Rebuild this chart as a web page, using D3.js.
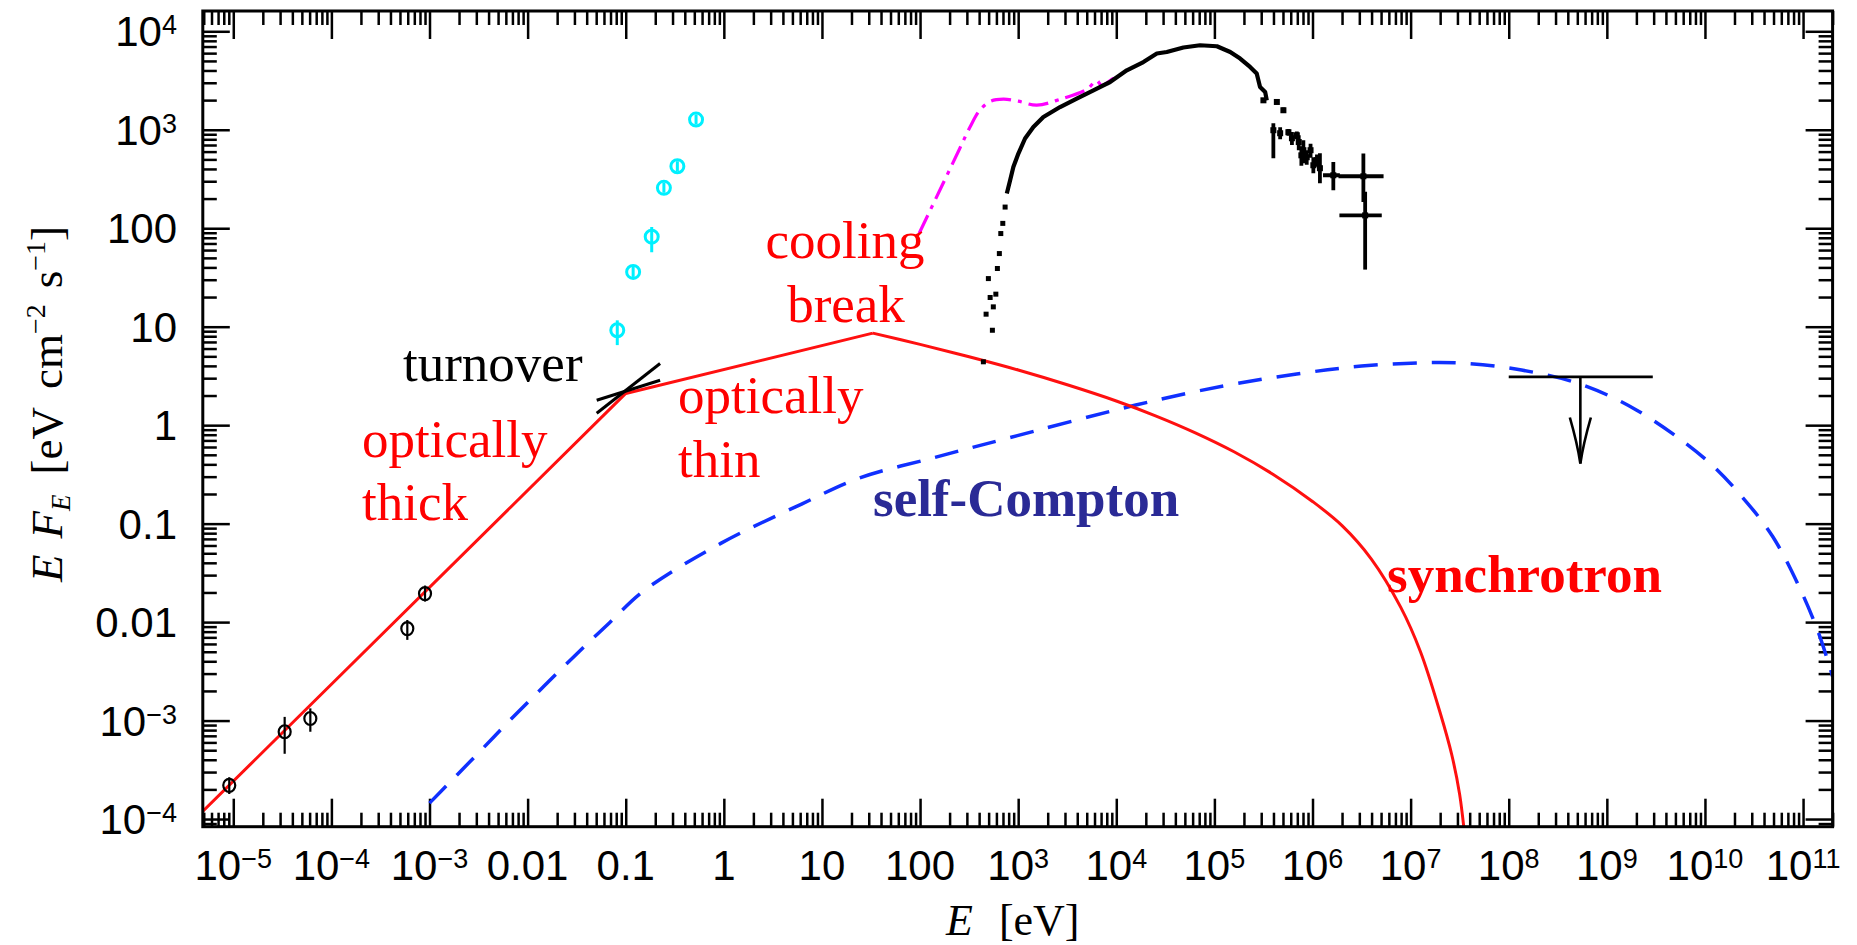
<!DOCTYPE html>
<html>
<head>
<meta charset="utf-8">
<script src="https://cdn.jsdelivr.net/npm/d3@7"></script>
<style>
  html, body { margin: 0; padding: 0; background: #ffffff; }
  svg { display: block; }
</style>
</head>
<body>
<svg id="chart" width="1857" height="945"></svg>
<script>
// ---- axis ranges and tick labels ----
const xDomain = [4.89e-6, 2.0e11];
const yDomain = [8.36e-5, 1.607e4];
const xMajorTicks = [1e-5, 1e-4, 1e-3, 1e-2, 1e-1, 1, 10, 100, 1e3, 1e4, 1e5, 1e6, 1e7, 1e8, 1e9, 1e10, 1e11];
const xTickLabels = ["10^−5", "10^−4", "10^−3", "0.01", "0.1", "1", "10", "100", "10^3", "10^4", "10^5", "10^6", "10^7", "10^8", "10^9", "10^10", "10^11"];
const yMajorTicks = [1e-4, 1e-3, 1e-2, 1e-1, 1, 10, 100, 1e3, 1e4];
const yTickLabels = ["10^−4", "10^−3", "0.01", "0.1", "1", "10", "100", "10^3", "10^4"];

// ---- synchrotron model: [E (eV), E F_E] ----
const synchrotronPowerLaw = [[4.9e-6, 1.2e-4], [0.1, 2.1], [33, 8.6]];
const synchrotronCutoff = [[33, 8.6], [100, 6.61], [316, 4.95], [1000, 3.63], [3162, 2.57],
  [1e4, 1.76], [2.51e4, 1.245], [6.31e4, 0.841], [1.585e5, 0.537], [3.98e5, 0.316],
  [1e6, 0.168], [2.0e6, 0.0955], [3.98e6, 0.0437], [7.94e6, 0.0141], [1.26e7, 5.0e-3],
  [2.0e7, 1.2e-3], [2.63e7, 4.47e-4], [3.16e7, 1.78e-4], [3.63e7, 5.6e-5]];

// ---- synchrotron self-Compton model ----
const selfCompton = [[1e-3, 1.45e-4], [3.16e-3, 4.7e-4], [7.2e-3, 1.1e-3], [0.032, 4.8e-3],
  [0.068, 9.8e-3], [0.155, 0.021], [0.93, 0.063], [6.2, 0.158], [24, 0.29], [141, 0.47],
  [676, 0.71], [1.58e4, 1.6], [1.26e5, 2.51], [6.9e5, 3.31], [3.16e6, 3.98], [1.58e7, 4.32],
  [3.98e7, 4.22], [1.35e8, 3.63], [5.25e8, 2.63], [2.04e9, 1.41], [1.05e10, 0.437],
  [2.4e10, 0.186], [4.9e10, 0.074], [9.3e10, 0.0219], [1.45e11, 7.6e-3], [2.0e11, 2.8e-3]];

// ---- absorbed soft X-ray model (dash-dot) ----
const unabsorbedXray = [[98, 89], [158, 240], [251, 631], [324, 1072], [407, 1585], [525, 1950],
  [708, 2042], [1000, 1950], [1549, 1778], [2692, 2042], [5012, 2570], [6310, 3162],
  [7079, 2818], [9333, 3311], [1.05e4, 3467]];

// ---- radio points: [E, E F_E, low, high] ----
const radioPoints = [[9.1e-6, 2.2e-4, 1.8e-4, 2.6e-4], [3.34e-5, 7.7e-4, 4.6e-4, 1.09e-3],
  [6.1e-5, 1.05e-3, 7.7e-4, 1.33e-3], [5.94e-4, 8.6e-3, 6.6e-3, 0.0105], [9.0e-4, 0.0195, 0.0175, 0.022]];

// ---- infrared / optical points ----
const opticalPoints = [[0.082, 9.2, 6.5, 11.6], [0.119, 36, 32, 40], [0.184, 82, 57, 103],
  [0.245, 257, 235, 280], [0.336, 426, 400, 455], [0.521, 1270, 1200, 1340]];

// ---- radio turnover bow-tie ----
const bowtieSteep = [[0.0506, 1.32], [0.224, 4.23]];
const bowtieFlat = [[0.0506, 1.79], [0.224, 2.86]];

// ---- X-ray spectrum ----
const xraySparse = [[442, 4.4], [546, 9.2], [471, 13.4], [558, 15.9], [518, 19.8], [592, 21.4],
  [497, 30.8], [614, 39], [643, 55.3], [665, 88.3], [697, 112], [736, 164]];
const xraySpectrum = [[766, 225], [828, 307], [893, 419], [1005, 573], [1175, 815], [1429, 1067],
  [1807, 1349], [2673, 1702], [3954, 2075], [5848, 2518], [8650, 3055], [1.28e4, 4018],
  [1.89e4, 4875], [2.59e4, 5943], [3.27e4, 6166], [4.83e4, 6839], [7.14e4, 7211], [1.06e5, 7047],
  [1.45e5, 6166], [1.83e5, 5284], [2.31e5, 4345], [2.70e5, 3724], [2.92e5, 2723], [3.29e5, 2421],
  [3.42e5, 1991]];
// [E, E F_E, low, high, E low, E high]
const xrayBins = [[3.16e5, 1991, 1900, 2090], [4.33e5, 1915, 1830, 2000], [5.05e5, 1578, 1480, 1680],
  [3.99e5, 989, 514, 1164], [4.68e5, 922, 800, 1060], [5.68e5, 944, 870, 1020], [6.17e5, 820, 700, 950],
  [6.92e5, 879, 800, 960], [7.24e5, 750, 620, 880], [7.7e5, 550, 430, 680], [8.07e5, 620, 457, 783],
  [8.73e5, 526, 440, 620], [9.55e5, 620, 520, 720], [1.02e6, 436, 362, 526], [1.11e6, 490, 420, 560],
  [1.19e6, 407, 286, 577], [1.63e6, 345, 243, 471, 1.28e6, 1.9e6],
  [3.3e6, 337, 185, 573, 1.84e6, 5.3e6], [3.44e6, 135, 38, 234, 1.88e6, 5.08e6]];

// ---- gamma-ray upper limit: [E low, E high, E centre, E F_E limit, arrow end] ----
const gammaLimit = [1e8, 2.94e9, 5.37e8, 3.09, 0.408];

// ---------------------------------------------------------------
const svg = d3.select("#chart");
const plot = { left: 202.8, right: 1832.6, top: 11, bottom: 826.7 };
const x = d3.scaleLog().domain(xDomain).range([plot.left, plot.right]);
const y = d3.scaleLog().domain(yDomain).range([plot.bottom, plot.top]);

svg.append("rect").attr("width", 1857).attr("height", 945).attr("fill", "#fff");

svg.append("defs").append("clipPath").attr("id", "plotClip")
  .append("rect").attr("x", plot.left).attr("y", plot.top)
  .attr("width", plot.right - plot.left).attr("height", plot.bottom - plot.top);

function minorTicks(dom) {
  const out = [];
  const lo = Math.floor(Math.log10(dom[0])), hi = Math.ceil(Math.log10(dom[1]));
  for (let e = lo; e <= hi; e++) {
    for (let k = 2; k <= 9; k++) {
      const v = k * Math.pow(10, e);
      if (v >= dom[0] && v <= dom[1]) out.push(v);
    }
  }
  return out;
}

// ---- ticks on all four sides, pointing inward ----
const axes = svg.append("g").attr("class", "axes");
function tickRow(gen, scale, vals, size, transform) {
  const g = axes.append("g").attr("transform", transform)
    .call(gen(scale).tickValues(vals).tickSizeInner(-size).tickSizeOuter(0).tickFormat(""));
  g.select(".domain").remove();
  g.selectAll(".tick line").attr("stroke", "#000").attr("stroke-width", 2.5);
}
const xMinor = minorTicks(xDomain), yMinor = minorTicks(yDomain);
tickRow(d3.axisBottom, x, xMajorTicks, 28, `translate(0,${plot.bottom})`);
tickRow(d3.axisBottom, x, xMinor, 14, `translate(0,${plot.bottom})`);
tickRow(d3.axisTop, x, xMajorTicks, 28, `translate(0,${plot.top})`);
tickRow(d3.axisTop, x, xMinor, 14, `translate(0,${plot.top})`);
tickRow(d3.axisLeft, y, yMajorTicks, 27, `translate(${plot.left},0)`);
tickRow(d3.axisLeft, y, yMinor, 14, `translate(${plot.left},0)`);
tickRow(d3.axisRight, y, yMajorTicks, 27, `translate(${plot.right},0)`);
tickRow(d3.axisRight, y, yMinor, 14, `translate(${plot.right},0)`);

// ---- tick labels with superscript exponents ----
function fillLabel(text, label) {
  const parts = label.split("^");
  text.append("tspan").text(parts[0]);
  if (parts.length > 1) text.append("tspan").attr("font-size", 27).attr("dy", -12).text(parts[1]);
}
const labelFont = "'Liberation Sans', Arial, sans-serif";
const xl = svg.append("g").attr("font-family", labelFont).attr("font-size", 42).attr("fill", "#000");
xMajorTicks.forEach((v, i) => {
  const t = xl.append("text").attr("x", x(v)).attr("y", plot.bottom + 53).attr("text-anchor", "middle");
  fillLabel(t, xTickLabels[i]);
});
const yl = svg.append("g").attr("font-family", labelFont).attr("font-size", 42).attr("fill", "#000");
yMajorTicks.forEach((v, i) => {
  const t = yl.append("text").attr("x", 177).attr("y", y(v) + 15).attr("text-anchor", "end");
  fillLabel(t, yTickLabels[i]);
});

// ---- axis titles ----
const titleFont = "'Liberation Serif', 'Times New Roman', serif";
const xt = svg.append("text").attr("x", 946).attr("y", 935)
  .attr("font-family", titleFont).attr("font-size", 44).attr("fill", "#000");
xt.append("tspan").attr("font-style", "italic").text("E");
xt.append("tspan").attr("dx", 26).text("[eV]");

const yt = svg.append("text").attr("transform", "translate(62,404) rotate(-90)")
  .attr("text-anchor", "middle").attr("font-family", titleFont).attr("font-size", 45).attr("fill", "#000");
yt.append("tspan").attr("font-style", "italic").text("E");
yt.append("tspan").attr("font-style", "italic").attr("dx", 16).text("F");
yt.append("tspan").attr("font-style", "italic").attr("font-size", 27).attr("dy", 8).text("E");
yt.append("tspan").attr("dy", -8).attr("dx", 20).text("[eV");
yt.append("tspan").attr("dx", 18).text("cm");
yt.append("tspan").attr("font-size", 28).attr("dy", -17).text("−2");
yt.append("tspan").attr("dy", 17).attr("dx", 16).text("s");
yt.append("tspan").attr("font-size", 28).attr("dy", -17).text("−1");
yt.append("tspan").attr("dy", 17).text("]");

// ---- curves ----
const marks = svg.append("g").attr("clip-path", "url(#plotClip)");
const lineLin = d3.line().x(d => x(d[0])).y(d => y(d[1]));
const lineSmooth = d3.line().x(d => x(d[0])).y(d => y(d[1])).curve(d3.curveCatmullRom.alpha(0.5));

marks.append("path").datum(selfCompton).attr("d", lineSmooth)
  .attr("fill", "none").attr("stroke", "#1030ff").attr("stroke-width", 3.5)
  .attr("stroke-dasharray", "24,15");

marks.append("path").datum(synchrotronPowerLaw).attr("d", lineLin)
  .attr("fill", "none").attr("stroke", "#ff1010").attr("stroke-width", 3).attr("stroke-linejoin", "round");
marks.append("path").datum(synchrotronCutoff).attr("d", lineSmooth)
  .attr("fill", "none").attr("stroke", "#ff1010").attr("stroke-width", 3);

marks.append("path").datum(unabsorbedXray).attr("d", lineSmooth)
  .attr("fill", "none").attr("stroke", "#ff00ff").attr("stroke-width", 3.2)
  .attr("stroke-dasharray", "20,7,4,7");

// ---- X-ray spectrum ----
marks.append("path").datum(xraySpectrum).attr("d", lineLin)
  .attr("fill", "none").attr("stroke", "#000").attr("stroke-width", 4.2).attr("stroke-linejoin", "round");
marks.selectAll("rect.xs").data(xraySparse).join("rect").attr("class", "xs")
  .attr("x", d => x(d[0]) - 2.5).attr("y", d => y(d[1]) - 2.5).attr("width", 5).attr("height", 5).attr("fill", "#000");
const bins = marks.selectAll("g.bin").data(xrayBins).join("g").attr("class", "bin");
bins.append("line").attr("x1", d => x(d[0])).attr("x2", d => x(d[0]))
  .attr("y1", d => y(d[3])).attr("y2", d => y(d[2])).attr("stroke", "#000").attr("stroke-width", 3.8);
bins.filter(d => d.length > 4).append("line").attr("x1", d => x(d[4])).attr("x2", d => x(d[5]))
  .attr("y1", d => y(d[1])).attr("y2", d => y(d[1])).attr("stroke", "#000").attr("stroke-width", 3.8);
bins.append("rect").attr("x", d => x(d[0]) - 3).attr("y", d => y(d[1]) - 3)
  .attr("width", 6).attr("height", 6).attr("fill", "#000");

// ---- gamma-ray upper limit ----
const [gLo, gHi, gE, gF, gEnd] = gammaLimit;
const ul = marks.append("g").attr("stroke", "#000").attr("fill", "none").attr("stroke-width", 2.6);
ul.append("line").attr("x1", x(gLo)).attr("x2", x(gHi)).attr("y1", y(gF)).attr("y2", y(gF));
ul.append("line").attr("x1", x(gE)).attr("x2", x(gE)).attr("y1", y(gF)).attr("y2", y(gEnd));
const tipX = x(gE), tipY = y(gEnd);
ul.append("path").attr("d", `M${tipX - 10.5},${tipY - 46} Q${tipX - 3},${tipY - 20} ${tipX},${tipY} Q${tipX + 3},${tipY - 20} ${tipX + 10.5},${tipY - 46}`)
  .attr("stroke-linejoin", "miter");

// ---- turnover bow-tie ----
[bowtieSteep, bowtieFlat].forEach(seg => {
  marks.append("path").datum(seg).attr("d", lineLin)
    .attr("fill", "none").attr("stroke", "#000").attr("stroke-width", 3);
});

// ---- radio points ----
const radio = marks.selectAll("g.radio").data(radioPoints).join("g").attr("class", "radio");
radio.append("line").attr("x1", d => x(d[0])).attr("x2", d => x(d[0]))
  .attr("y1", d => Math.min(y(d[3]), y(d[1]) - 8)).attr("y2", d => Math.max(y(d[2]), y(d[1]) + 8))
  .attr("stroke", "#000").attr("stroke-width", 2.2);
radio.append("ellipse").attr("cx", d => x(d[0])).attr("cy", d => y(d[1])).attr("rx", 6).attr("ry", 6.5)
  .attr("fill", "none").attr("stroke", "#000").attr("stroke-width", 2.2);

// ---- optical / infrared points ----
const opt = marks.selectAll("g.opt").data(opticalPoints).join("g").attr("class", "opt");
opt.append("line").attr("x1", d => x(d[0])).attr("x2", d => x(d[0]))
  .attr("y1", d => Math.min(y(d[3]), y(d[1]) - 5)).attr("y2", d => Math.max(y(d[2]), y(d[1]) + 5))
  .attr("stroke", "#00f0ff").attr("stroke-width", 3);
opt.append("circle").attr("cx", d => x(d[0])).attr("cy", d => y(d[1])).attr("r", 6.5)
  .attr("fill", "none").attr("stroke", "#00f0ff").attr("stroke-width", 3);

// ---- frame ----
svg.append("rect").attr("x", plot.left).attr("y", plot.top)
  .attr("width", plot.right - plot.left).attr("height", plot.bottom - plot.top)
  .attr("fill", "none").attr("stroke", "#000").attr("stroke-width", 3);

// ---- annotations ----
const notes = svg.append("g").attr("font-family", titleFont).attr("font-size", 53);
function note(txt, px, py, color, opts = {}) {
  const t = notes.append("text").attr("x", px).attr("y", py).attr("fill", color).text(txt);
  if (opts.bold) t.attr("font-weight", "bold");
  if (opts.anchor) t.attr("text-anchor", opts.anchor);
  return t;
}
note("turnover", 403, 381, "#000");
note("optically", 362, 457, "#ff0000");
note("thick", 362, 520, "#ff0000");
note("optically", 678, 413, "#ff0000");
note("thin", 678, 477, "#ff0000");
note("cooling", 845, 258, "#ff0000", { anchor: "middle" });
note("break", 846, 322, "#ff0000", { anchor: "middle" });
note("self-Compton", 873, 516, "#2a2a96", { bold: true });
note("synchrotron", 1387, 592, "#ff0000", { bold: true });
</script>
</body>
</html>
